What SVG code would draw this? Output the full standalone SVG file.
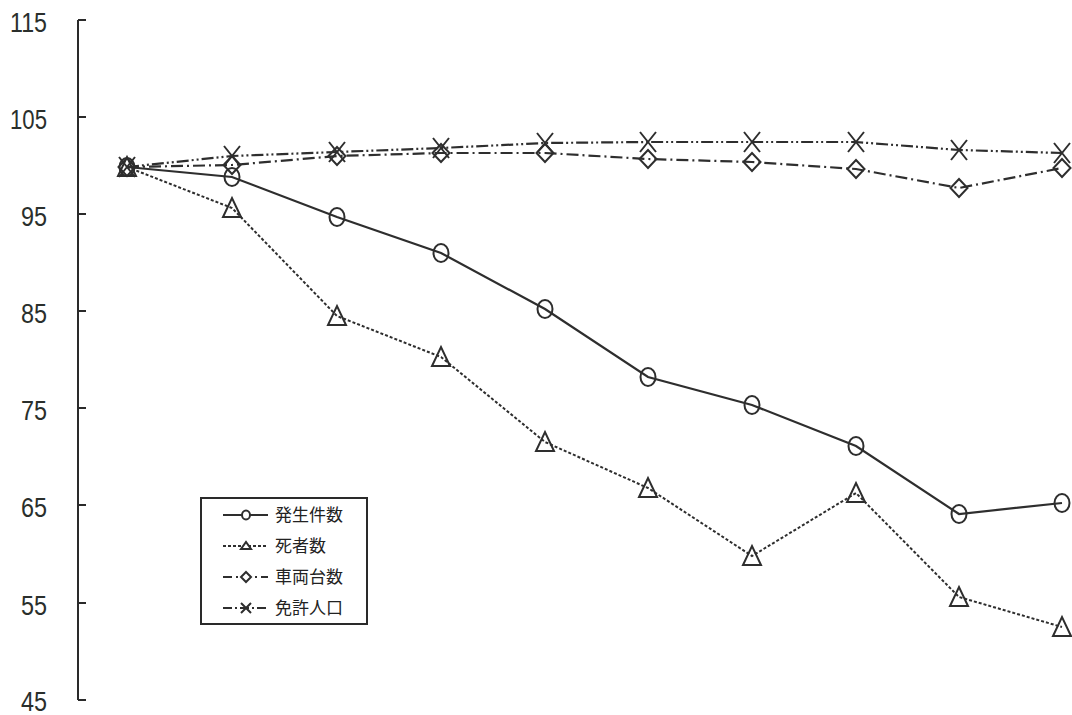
<svg xmlns="http://www.w3.org/2000/svg" xmlns:xlink="http://www.w3.org/1999/xlink" width="1072" height="715" viewBox="0 0 1072 715">
<style>
.lbl{font-family:"Liberation Sans","DejaVu Sans",sans-serif;font-size:28px;fill:#2a2f2c;text-anchor:end}
.leg{font-family:"Noto Sans CJK JP","Noto Sans CJK SC",sans-serif;font-size:17px;fill:#222}
.ax{stroke:#2a2a2a;stroke-width:2;fill:none}
.s1{stroke:#2e2e2e;stroke-width:2.2;fill:none}
.s2{stroke:#2e2e2e;stroke-width:2;fill:none;stroke-dasharray:3,2}
.s3{stroke:#2e2e2e;stroke-width:2.2;fill:none;stroke-dasharray:12,4,2,4}
.s4{stroke:#2e2e2e;stroke-width:2.2;fill:none;stroke-dasharray:12,3,2,3,2,3}
.mk{stroke:#2e2e2e;stroke-width:2;fill:none}
</style>
<defs>
<ellipse id="mc" cx="0" cy="0" rx="7.5" ry="9" class="mk"/>
<polygon id="mt" points="-9,9 9,9 0,-10" class="mk"/>
<polygon id="md" points="0,-9 8.5,0 0,9 -8.5,0" class="mk"/>
<path id="mx" d="M-8,-10 L8,10 M8,-10 L-8,10" class="mk"/>
</defs>
<rect width="1072" height="715" fill="#ffffff"/>
<g id="axis">
<path class="ax" d="M78,20 V700 M78,20 H86 M78,117 H86 M78,214 H86 M78,311 H86 M78,408 H86 M78,505 H86 M78,603 H86 M78,700 H86"/>
<text class="lbl" x="47" y="32" textLength="37" lengthAdjust="spacingAndGlyphs">115</text>
<text class="lbl" x="47" y="129" textLength="37" lengthAdjust="spacingAndGlyphs">105</text>
<text class="lbl" x="47" y="226" textLength="26" lengthAdjust="spacingAndGlyphs">95</text>
<text class="lbl" x="47" y="323" textLength="26" lengthAdjust="spacingAndGlyphs">85</text>
<text class="lbl" x="47" y="420" textLength="26" lengthAdjust="spacingAndGlyphs">75</text>
<text class="lbl" x="47" y="517" textLength="26" lengthAdjust="spacingAndGlyphs">65</text>
<text class="lbl" x="47" y="615" textLength="26" lengthAdjust="spacingAndGlyphs">55</text>
<text class="lbl" x="47" y="711" textLength="26" lengthAdjust="spacingAndGlyphs">45</text>
</g>
<g id="connectors">
<polyline class="s1" points="127,167 232,177 337,217 441,253 545,309 648,377 752,405 856,446 959,514 1062,503"/>
<polyline class="s2" points="127,167 232,208 337,316 441,357 545,442 648,488 752,556 856,493 959,597 1062,627"/>
<polyline class="s3" points="127,167 232,165 337,156 441,153 545,153 648,159 752,162 856,169 959,188 1062,168"/>
<polyline class="s4" points="127,167 232,156 337,152 441,148 545,143 648,142 752,142 856,142 959,150 1062,153"/>
</g>
<g id="series-hassei">
<use xlink:href="#mc" x="127" y="167"/><use xlink:href="#mc" x="232" y="177"/><use xlink:href="#mc" x="337" y="217"/><use xlink:href="#mc" x="441" y="253"/><use xlink:href="#mc" x="545" y="309"/><use xlink:href="#mc" x="648" y="377"/><use xlink:href="#mc" x="752" y="405"/><use xlink:href="#mc" x="856" y="446"/><use xlink:href="#mc" x="959" y="514"/><use xlink:href="#mc" x="1062" y="503"/>
</g>
<g id="series-shisha">
<use xlink:href="#mt" x="127" y="167"/><use xlink:href="#mt" x="232" y="208"/><use xlink:href="#mt" x="337" y="316"/><use xlink:href="#mt" x="441" y="357"/><use xlink:href="#mt" x="545" y="442"/><use xlink:href="#mt" x="648" y="488"/><use xlink:href="#mt" x="752" y="556"/><use xlink:href="#mt" x="856" y="493"/><use xlink:href="#mt" x="959" y="597"/><use xlink:href="#mt" x="1062" y="627"/>
</g>
<g id="series-sharyo">
<use xlink:href="#md" x="127" y="167"/><use xlink:href="#md" x="232" y="165"/><use xlink:href="#md" x="337" y="156"/><use xlink:href="#md" x="441" y="153"/><use xlink:href="#md" x="545" y="153"/><use xlink:href="#md" x="648" y="159"/><use xlink:href="#md" x="752" y="162"/><use xlink:href="#md" x="856" y="169"/><use xlink:href="#md" x="959" y="188"/><use xlink:href="#md" x="1062" y="168"/>
</g>
<g id="series-menkyo">
<use xlink:href="#mx" x="127" y="167"/><use xlink:href="#mx" x="232" y="156"/><use xlink:href="#mx" x="337" y="152"/><use xlink:href="#mx" x="441" y="148"/><use xlink:href="#mx" x="545" y="143"/><use xlink:href="#mx" x="648" y="142"/><use xlink:href="#mx" x="752" y="142"/><use xlink:href="#mx" x="856" y="142"/><use xlink:href="#mx" x="959" y="150"/><use xlink:href="#mx" x="1062" y="153"/>
</g>
<g id="legend">
<rect x="201" y="498" width="166" height="126" fill="#fff" stroke="#2a2a2a" stroke-width="2"/>
<line class="s1" x1="223" y1="515" x2="268" y2="515"/>
<ellipse cx="246" cy="515" rx="4" ry="4.5" class="mk" style="fill:#fff"/>
<line class="s2" x1="223" y1="546" x2="268" y2="546"/>
<polygon points="241,549 251,549 246,542" class="mk" style="fill:#fff"/>
<line class="s3" x1="223" y1="577" x2="268" y2="577" style="stroke-dasharray:9,4,2,4"/>
<polygon points="246,572 251,577 246,582 241,577" class="mk" style="fill:#fff"/>
<line class="s4" x1="223" y1="608" x2="268" y2="608" style="stroke-dasharray:9,3,2,3"/>
<path d="M241,603 L251,613 M251,603 L241,613" class="mk"/>
<text class="leg" x="275" y="521">発生件数</text>
<text class="leg" x="275" y="552">死者数</text>
<text class="leg" x="275" y="583">車両台数</text>
<text class="leg" x="275" y="614">免許人口</text>
</g>
</svg>
